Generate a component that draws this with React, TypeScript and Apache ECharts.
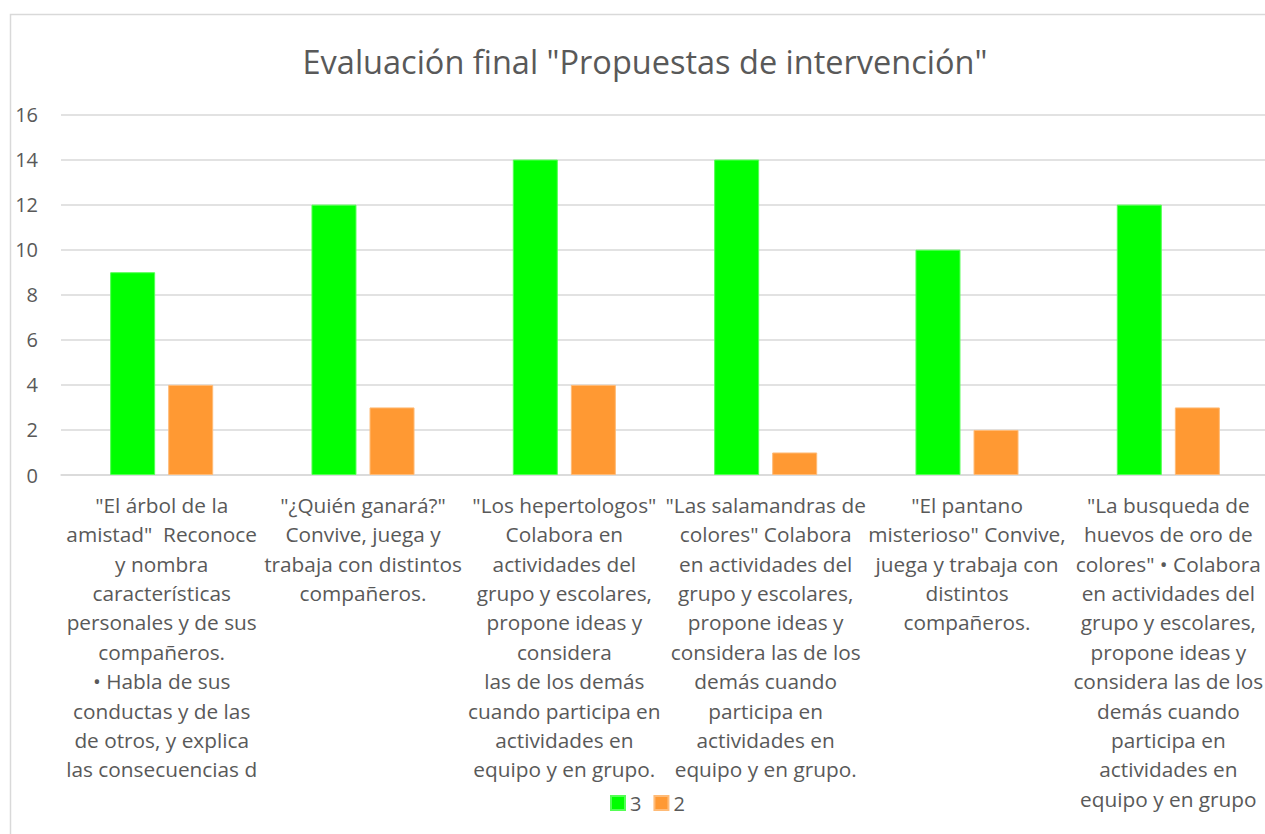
import React, { useEffect, useRef } from "react";
import * as echarts from "echarts";

const titleText = 'Evaluación final "Propuestas de intervención"';

const categories: string[] = [
  '"El árbol de la\namistad"  Reconoce\ny nombra\ncaracterísticas\npersonales y de sus\ncompañeros.\n• Habla de sus\nconductas y de las\nde otros, y explica\nlas consecuencias d',
  '"¿Quién ganará?"\nConvive, juega y\ntrabaja con distintos\ncompañeros.',
  '"Los hepertologos"\nColabora en\nactividades del\ngrupo y escolares,\npropone ideas y\nconsidera\nlas de los demás\ncuando participa en\nactividades en\nequipo y en grupo.',
  '"Las salamandras de\ncolores" Colabora\nen actividades del\ngrupo y escolares,\npropone ideas y\nconsidera las de los\ndemás cuando\nparticipa en\nactividades en\nequipo y en grupo.',
  '"El pantano\nmisterioso" Convive,\njuega y trabaja con\ndistintos\ncompañeros.',
  '"La busqueda de\nhuevos de oro de\ncolores" • Colabora\nen actividades del\ngrupo y escolares,\npropone ideas y\nconsidera las de los\ndemás cuando\nparticipa en\nactividades en\nequipo y en grupo',
];

const seriesNames: string[] = ["3", "2"];
const values3: number[] = [9, 12, 14, 14, 10, 12];
const values2: number[] = [4, 3, 4, 1, 2, 3];

const yMin = 0;
const yMax = 16;
const yInterval = 2;

const FONT = "'Open Sans', sans-serif";
const TEXT = "#595959";
const GRID = "#d9d9d9";

export default function App() {
  const ref = useRef<HTMLDivElement>(null);

  useEffect(() => {
    if (!ref.current) return;
    const chart = echarts.init(ref.current, undefined, { renderer: "svg" });
    chart.setOption({
      animation: false,
      backgroundColor: "#ffffff",
      textStyle: { fontFamily: FONT },
      title: {
        text: titleText,
        left: 645,
        textAlign: "center",
        top: 45,
        padding: 0,
        textStyle: { fontFamily: FONT, fontSize: 32.5, fontWeight: "normal", color: TEXT },
      },
      graphic: [
        {
          type: "rect",
          shape: { x: 10.5, y: 14.5, width: 1400, height: 900 },
          style: { fill: "none", stroke: GRID, lineWidth: 1.5 },
          silent: true,
          z: -1,
        },
      ],
      legend: {
        data: seriesNames,
        left: 610,
        top: 793,
        padding: 0,
        itemWidth: 14,
        itemHeight: 14,
        itemGap: 12,
        icon: "rect",
        textStyle: { fontFamily: FONT, fontSize: 20, color: TEXT },
      },
      grid: { left: 61, top: 114.5, width: 1208, height: 360.5, containLabel: false },
      xAxis: {
        type: "category",
        data: categories,
        axisLine: { show: true, lineStyle: { color: GRID, width: 1.5 } },
        axisTick: { show: false },
        axisLabel: {
          interval: 0,
          margin: 15,
          fontFamily: FONT,
          fontSize: 20.8,
          lineHeight: 29.4,
          color: TEXT,
          align: "center",
          verticalAlign: "top",
        },
      },
      yAxis: {
        type: "value",
        min: yMin,
        max: yMax,
        interval: yInterval,
        axisLine: { show: false },
        axisTick: { show: false },
        splitLine: { lineStyle: { color: GRID, width: 1.5 } },
        axisLabel: { margin: 23, fontFamily: FONT, fontSize: 20, color: TEXT },
      },
      series: [
        {
          name: seriesNames[0],
          type: "bar",
          data: values3,
          barWidth: 45,
          barGap: "29%",
          itemStyle: { color: "#00ff00", borderColor: "#55ff55", borderWidth: 1 },
        },
        {
          name: seriesNames[1],
          type: "bar",
          data: values2,
          barWidth: 45,
          barGap: "29%",
          itemStyle: { color: "#ff9933", borderColor: "#ffbb77", borderWidth: 1 },
        },
      ],
    });
    return () => chart.dispose();
  }, []);

  return (
    <div
      style={{
        position: "fixed",
        left: 0,
        top: 0,
        width: 1265,
        height: 834,
        overflow: "hidden",
        background: "#fff",
      }}
    >
      <div ref={ref} style={{ width: 1300, height: 834 }} />
    </div>
  );
}
